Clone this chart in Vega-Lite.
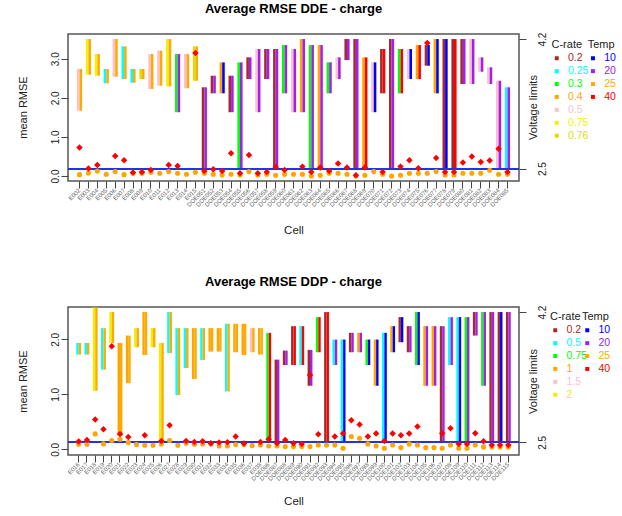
{
"$schema": "https://vega.github.io/schema/vega-lite/v6.json",
"padding": {"left": 16, "top": 2, "right": 0, "bottom": 0},
"spacing": 38,
"config": {
 "font": "Liberation Sans",
 "view": {"stroke": "#555", "strokeWidth": 1.5},
 "title": {"fontSize": 13, "fontWeight": "bold", "offset": 16, "color": "#000"},
 "axis": {"grid": false, "domain": false, "tickColor": "#444", "tickSize": 7, "labelColor": "#222", "titleColor": "#222", "titleFontWeight": "normal", "titleFontSize": 11, "labelFontSize": 10},
 "legend": {"padding": 0, "titleFontSize": 11, "titleFontWeight": "normal", "titleColor": "#222", "labelFontSize": 10.5, "symbolType": "square", "symbolSize": 16, "symbolStrokeWidth": 0, "rowPadding": 1.9, "labelOffset": 6, "titlePadding": 3, "orient": "none"}
},
"datasets": {
 "dde": [
  {"c":"E002","cr":"0.5","t":"25","lo":3.26,"hi":3.807,"r":0.728,"o":0.035},
  {"c":"E003","cr":"0.75","t":"25","lo":3.732,"hi":4.2,"r":0.19,"o":0.078},
  {"c":"E004","cr":"0.75","t":"25","lo":3.719,"hi":4.003,"r":0.28,"o":0.128},
  {"c":"E005","cr":"0.25","t":"25","lo":3.619,"hi":3.807,"r":null,"o":0.044},
  {"c":"E006","cr":"0.5","t":"25","lo":3.706,"hi":4.2,"r":0.513,"o":0.113},
  {"c":"E007","cr":"0.25","t":"25","lo":3.676,"hi":4.104,"r":0.403,"o":0.035},
  {"c":"E008","cr":"0.25","t":"25","lo":3.627,"hi":3.807,"r":0.087,"o":0.069},
  {"c":"E009","cr":"0.76","t":"25","lo":3.676,"hi":3.807,"r":0.103,"o":0.069},
  {"c":"E010","cr":"0.5","t":"25","lo":3.545,"hi":4.003,"r":0.154,"o":0.095},
  {"c":"E011","cr":"0.5","t":"25","lo":3.588,"hi":4.047,"r":null,"o":0.069},
  {"c":"E012","cr":"0.75","t":"25","lo":3.58,"hi":4.2,"r":0.28,"o":0.113},
  {"c":"E013","cr":"0.3","t":"20","lo":3.24,"hi":4.003,"r":0.256,"o":0.069},
  {"c":"E014","cr":"0.5","t":"25","lo":3.554,"hi":4.003,"r":null,"o":0.044},
  {"c":"E015","cr":"0.76","t":"25","lo":3.653,"hi":4.104,"r":3.146,"o":0.095},
  {"c":"DOE051","cr":"0.2","t":"20","lo":2.5,"hi":3.567,"r":0.128,"o":0.069},
  {"c":"DOE052","cr":"0.2","t":"20","lo":3.488,"hi":3.719,"r":0.172,"o":0.044},
  {"c":"DOE053","cr":"0.4","t":"10","lo":3.488,"hi":3.894,"r":0.128,"o":0.026},
  {"c":"DOE054","cr":"0.2","t":"20","lo":3.24,"hi":3.719,"r":0.582,"o":0.044},
  {"c":"DOE055","cr":"0.3","t":"20","lo":2.5,"hi":3.894,"r":0.069,"o":0.026},
  {"c":"DOE056","cr":"0.2","t":"20","lo":3.676,"hi":3.96,"r":0.538,"o":0.113},
  {"c":"DOE057","cr":"0.5","t":"20","lo":3.24,"hi":4.069,"r":0.069,"o":0.026},
  {"c":"DOE058","cr":"0.2","t":"20","lo":3.676,"hi":4.069,"r":0.103,"o":0.044},
  {"c":"DOE059","cr":"0.2","t":"20","lo":2.5,"hi":4.069,"r":0.231,"o":0.018},
  {"c":"DOE060","cr":"0.3","t":"20","lo":3.488,"hi":4.121,"r":0.154,"o":0.044},
  {"c":"DOE061","cr":"0.5","t":"20","lo":3.24,"hi":4.069,"r":null,"o":0.044},
  {"c":"DOE062","cr":"0.4","t":"20","lo":3.24,"hi":4.2,"r":0.24,"o":0.044},
  {"c":"DOE063","cr":"0.3","t":"20","lo":2.5,"hi":4.121,"r":0.103,"o":0.0},
  {"c":"DOE064","cr":"0.4","t":"20","lo":2.5,"hi":4.121,"r":0.215,"o":0.018},
  {"c":"DOE065","cr":"0.3","t":"20","lo":3.488,"hi":3.894,"r":0.128,"o":0.069},
  {"c":"DOE066","cr":"0.5","t":"20","lo":3.676,"hi":3.96,"r":0.318,"o":0.069},
  {"c":"DOE067","cr":"0.2","t":"20","lo":3.925,"hi":4.2,"r":0.215,"o":0.044},
  {"c":"DOE068","cr":"0.2","t":"20","lo":2.5,"hi":4.2,"r":0.018,"o":0.0},
  {"c":"DOE069","cr":"0.4","t":"40","lo":2.5,"hi":3.96,"r":0.215,"o":0.018},
  {"c":"DOE070","cr":"0.5","t":"10","lo":3.24,"hi":3.894,"r":null,"o":0.113},
  {"c":"DOE071","cr":"0.2","t":"40","lo":3.488,"hi":4.069,"r":0.103,"o":0.044},
  {"c":"DOE072","cr":"0.2","t":"20","lo":2.5,"hi":4.2,"r":null,"o":0.0},
  {"c":"DOE073","cr":"0.3","t":"40","lo":3.488,"hi":4.069,"r":0.24,"o":0.018},
  {"c":"DOE074","cr":"0.5","t":"10","lo":3.676,"hi":4.069,"r":0.403,"o":0.069},
  {"c":"DOE075","cr":"0.4","t":"40","lo":3.676,"hi":4.121,"r":0.197,"o":0.069},
  {"c":"DOE076","cr":"0.2","t":"10","lo":3.85,"hi":4.121,"r":3.403,"o":0.069},
  {"c":"DOE077","cr":"0.4","t":"10","lo":3.488,"hi":4.2,"r":0.462,"o":0.113},
  {"c":"DOE078","cr":"0.2","t":"10","lo":2.5,"hi":4.2,"r":0.103,"o":0.026},
  {"c":"DOE079","cr":"0.2","t":"40","lo":2.5,"hi":4.2,"r":0.103,"o":0.026},
  {"c":"DOE080","cr":"0.2","t":"20","lo":3.61,"hi":4.2,"r":0.343,"o":0.069},
  {"c":"DOE081","cr":"0.5","t":"20","lo":3.61,"hi":4.2,"r":0.497,"o":0.069},
  {"c":"DOE082","cr":"0.5","t":"20","lo":3.771,"hi":3.96,"r":0.36,"o":0.069},
  {"c":"DOE083","cr":"0.5","t":"20","lo":3.61,"hi":3.829,"r":0.394,"o":0.146},
  {"c":"DOE084","cr":"0.5","t":"20","lo":2.5,"hi":3.653,"r":0.7,"o":0.044},
  {"c":"DOE085","cr":"0.25","t":"20","lo":2.5,"hi":3.567,"r":0.103,"o":0.044}
 ],
 "ddp": [
  {"c":"E016","cr":"0.5","t":"25","lo":3.645,"hi":3.797,"r":0.14,"o":0.091},
  {"c":"E017","cr":"0.5","t":"25","lo":3.645,"hi":3.797,"r":0.17,"o":0.091},
  {"c":"E018","cr":"2","t":"25","lo":3.173,"hi":4.26,"r":0.543,"o":0.28},
  {"c":"E019","cr":"0.5","t":"25","lo":3.448,"hi":3.99,"r":0.366,"o":0.098},
  {"c":"E020","cr":"2","t":"25","lo":3.797,"hi":4.2,"r":1.877,"o":0.159},
  {"c":"E021","cr":"1","t":"25","lo":2.583,"hi":3.797,"r":0.28,"o":0.183},
  {"c":"E022","cr":"1","t":"25","lo":3.273,"hi":3.893,"r":0.225,"o":0.122},
  {"c":"E023","cr":"2","t":"25","lo":3.741,"hi":3.99,"r":null,"o":0.085},
  {"c":"E024","cr":"1","t":"25","lo":3.64,"hi":4.2,"r":0.256,"o":0.073},
  {"c":"E025","cr":"2","t":"25","lo":3.741,"hi":3.99,"r":null,"o":0.073},
  {"c":"E026","cr":"2","t":"25","lo":2.5,"hi":3.797,"r":0.152,"o":0.098},
  {"c":"E027","cr":"0.5","t":"25","lo":3.666,"hi":4.2,"r":0.439,"o":0.159},
  {"c":"E028","cr":"0.5","t":"25","lo":3.116,"hi":3.99,"r":null,"o":0.073},
  {"c":"E029","cr":"0.5","t":"25","lo":3.47,"hi":3.99,"r":0.152,"o":0.11},
  {"c":"E030","cr":"1","t":"25","lo":3.326,"hi":3.99,"r":0.134,"o":0.091},
  {"c":"E031","cr":"0.5","t":"25","lo":3.575,"hi":3.99,"r":0.146,"o":0.098},
  {"c":"E032","cr":"1","t":"25","lo":3.684,"hi":3.99,"r":0.11,"o":0.098},
  {"c":"E033","cr":"1","t":"25","lo":3.684,"hi":3.99,"r":0.122,"o":0.061},
  {"c":"E034","cr":"0.5","t":"25","lo":3.164,"hi":4.047,"r":0.128,"o":0.061},
  {"c":"E035","cr":"1","t":"25","lo":3.675,"hi":4.047,"r":0.232,"o":0.085},
  {"c":"E036","cr":"1","t":"25","lo":3.64,"hi":4.047,"r":0.104,"o":0.085},
  {"c":"E037","cr":"1.5","t":"25","lo":3.675,"hi":3.99,"r":null,"o":0.067},
  {"c":"E038","cr":"1","t":"25","lo":3.645,"hi":3.99,"r":0.134,"o":0.079},
  {"c":"DOE086","cr":"0.75","t":"40","lo":2.5,"hi":3.929,"r":0.183,"o":0.061},
  {"c":"DOE087","cr":"0.2","t":"20","lo":2.5,"hi":3.579,"r":0.11,"o":0.061},
  {"c":"DOE088","cr":"0.2","t":"20","lo":3.509,"hi":3.697,"r":0.17,"o":0.049},
  {"c":"DOE089","cr":"0.2","t":"40","lo":3.509,"hi":4.016,"r":0.11,"o":0.049},
  {"c":"DOE090","cr":"0.5","t":"40","lo":3.509,"hi":4.016,"r":0.098,"o":0.049},
  {"c":"DOE091","cr":"0.2","t":"20","lo":3.238,"hi":3.706,"r":1.353,"o":0.049},
  {"c":"DOE092","cr":"0.75","t":"40","lo":3.675,"hi":4.134,"r":0.274,"o":0.079},
  {"c":"DOE093","cr":"0.2","t":"40","lo":2.5,"hi":4.2,"r":null,"o":0.079},
  {"c":"DOE094","cr":"0.5","t":"20","lo":3.509,"hi":3.841,"r":0.232,"o":0.079},
  {"c":"DOE095","cr":"0.5","t":"10","lo":2.5,"hi":3.841,"r":0.286,"o":0.018},
  {"c":"DOE096","cr":"0.2","t":"20","lo":3.675,"hi":3.929,"r":0.53,"o":0.232},
  {"c":"DOE097","cr":"1","t":"20","lo":3.675,"hi":3.929,"r":0.451,"o":0.201},
  {"c":"DOE098","cr":"0.75","t":"10","lo":3.509,"hi":3.841,"r":0.232,"o":0.098},
  {"c":"DOE099","cr":"1","t":"10","lo":3.238,"hi":3.841,"r":0.286,"o":0.061},
  {"c":"DOE100","cr":"0.5","t":"10","lo":2.5,"hi":3.929,"r":0.152,"o":0.018},
  {"c":"DOE101","cr":"1","t":"10","lo":3.675,"hi":4.016,"r":0.286,"o":0.079},
  {"c":"DOE102","cr":"0.2","t":"10","lo":3.806,"hi":4.134,"r":0.256,"o":0.031},
  {"c":"DOE103","cr":"0.2","t":"20","lo":3.675,"hi":4.016,"r":0.286,"o":0.098},
  {"c":"DOE104","cr":"0.75","t":"10","lo":3.509,"hi":4.2,"r":0.414,"o":0.079},
  {"c":"DOE105","cr":"1","t":"20","lo":3.238,"hi":4.016,"r":null,"o":0.031},
  {"c":"DOE106","cr":"1","t":"20","lo":3.238,"hi":4.016,"r":null,"o":0.031},
  {"c":"DOE107","cr":"0.2","t":"20","lo":2.5,"hi":4.016,"r":0.292,"o":0.018},
  {"c":"DOE108","cr":"0.5","t":"20","lo":3.509,"hi":4.134,"r":0.384,"o":0.079},
  {"c":"DOE109","cr":"0.5","t":"10","lo":2.5,"hi":4.134,"r":0.098,"o":0.018},
  {"c":"DOE110","cr":"0.75","t":"20","lo":2.5,"hi":4.134,"r":0.098,"o":0.018},
  {"c":"DOE111","cr":"0.2","t":"20","lo":3.893,"hi":4.2,"r":0.292,"o":0.079},
  {"c":"DOE112","cr":"0.75","t":"20","lo":3.238,"hi":4.2,"r":0.146,"o":0.043},
  {"c":"DOE113","cr":"0.2","t":"20","lo":2.5,"hi":4.2,"r":0.08,"o":0.043},
  {"c":"DOE114","cr":"0.2","t":"10","lo":2.5,"hi":4.2,"r":0.08,"o":0.043},
  {"c":"DOE115","cr":"0.2","t":"20","lo":2.5,"hi":4.2,"r":0.08,"o":0.043}
 ]
},
"vconcat": [
 {
  "title": "Average RMSE DDE - charge",
  "width": 451, "height": 147,
  "data": {"name": "dde"},
  "layer": [
   {"layer": [
     {"mark": {"type": "bar"}, "encoding": {
       "x": {"field": "c", "type": "nominal", "sort": null, "scale": {"paddingInner": 0.42, "paddingOuter": 1.72}, "axis": {"title": "Cell", "labelAngle": -45, "labelAlign": "right", "labelBaseline": "middle", "labelFontSize": 6, "labelColor": "#666", "labelOverlap": false, "labelPadding": 1, "titleY": 49, "titleBaseline": "middle", "titleFontSize": 11.5}},
       "xOffset": {"datum": "a", "type": "nominal"},
       "y": {"field": "lo", "type": "quantitative", "scale": {"domain": [2.338, 4.266], "nice": false, "zero": false}, "axis": {"orient": "right", "values": [2.5, 4.2], "format": ".1f", "title": "Voltage limits", "labelAngle": 270, "labelAlign": "center", "labelBaseline": "top", "labelPadding": 11, "titleAngle": 270, "titleX": 14, "titleY": 73, "titleBaseline": "middle"}},
       "y2": {"field": "hi"},
       "color": {"field": "cr", "type": "nominal", "scale": {"domain": ["0.2","0.25","0.3","0.4","0.5","0.75","0.76"], "range": ["#A52A2A","#00FFFF","#00FF00","#FFA500","#FFC0CB","#F2F200","#E0DC00"]}, "legend": {"title": "C-rate", "legendX": 483.5, "legendY": 5, "labelColor": {"expr": "datum.label=='0.2'?'#A52A2A':datum.label=='0.25'?'#00FFFF':datum.label=='0.3'?'#00FF00':datum.label=='0.4'?'#FFA500':datum.label=='0.5'?'#FFC0CB':datum.label=='0.75'?'#F2F200':'#E0DC00'"}}}
     }},
     {"mark": {"type": "bar"}, "encoding": {
       "x": {"field": "c", "type": "nominal", "sort": null},
       "xOffset": {"datum": "b", "type": "nominal"},
       "y": {"field": "lo", "type": "quantitative"},
       "y2": {"field": "hi"},
       "fill": {"field": "t", "type": "nominal", "scale": {"domain": ["10","20","25","40"], "range": ["#0000FF","#A020F0","#FFAA00","#FF0000"]}, "legend": {"title": "Temp", "legendX": 519.7, "legendY": 5, "labelColor": {"expr": "datum.label=='10'?'#0000FF':datum.label=='20'?'#A020F0':datum.label=='25'?'#FFAA00':'#FF0000'"}}}
     }},
     {"mark": {"type": "rule", "color": "#2233E6", "strokeWidth": 1.5}, "encoding": {"y": {"datum": 2.5}}}
   ]},
   {"layer": [
     {"mark": {"type": "point", "shape": "circle", "filled": true, "color": "#FFA500", "size": 26, "opacity": 1}, "encoding": {
       "x": {"field": "c", "type": "nominal", "sort": null},
       "y": {"field": "o", "type": "quantitative", "scale": {"domain": [-0.128, 3.633], "nice": false, "zero": false}, "axis": {"orient": "left", "values": [0, 0.5, 1, 1.5, 2, 2.5, 3, 3.5], "labelExpr": "datum.value % 1 === 0 ? format(datum.value, '.1f') : ''", "title": "mean RMSE", "labelAngle": 270, "labelAlign": "center", "labelBaseline": "alphabetic", "labelPadding": 3, "titleAngle": 270, "titleX": -45, "titleY": 73, "titleBaseline": "middle"}}
     }},
     {"mark": {"type": "point", "shape": "diamond", "filled": true, "color": "#FF0000", "size": 42, "opacity": 1}, "encoding": {
       "x": {"field": "c", "type": "nominal", "sort": null},
       "y": {"field": "r", "type": "quantitative"}
     }}
   ]}
  ],
  "resolve": {"scale": {"y": "independent"}}
 },
 {
  "title": "Average RMSE DDP - charge",
  "width": 451, "height": 148,
  "data": {"name": "ddp"},
  "layer": [
   {"layer": [
     {"mark": {"type": "bar"}, "encoding": {
       "x": {"field": "c", "type": "nominal", "sort": null, "scale": {"paddingInner": 0.415, "paddingOuter": 1.79}, "axis": {"title": "Cell", "labelAngle": -45, "labelAlign": "right", "labelBaseline": "middle", "labelFontSize": 6, "labelColor": "#666", "labelOverlap": false, "labelPadding": 1, "titleY": 46, "titleBaseline": "middle", "titleFontSize": 11.5}},
       "xOffset": {"datum": "a", "type": "nominal"},
       "y": {"field": "lo", "type": "quantitative", "scale": {"domain": [2.334, 4.266], "nice": false, "zero": false}, "axis": {"orient": "right", "values": [2.5, 4.2], "format": ".1f", "title": "Voltage limits", "labelAngle": 270, "labelAlign": "center", "labelBaseline": "top", "labelPadding": 11, "titleAngle": 270, "titleX": 14, "titleY": 74, "titleBaseline": "middle"}},
       "y2": {"field": "hi"},
       "color": {"field": "cr", "type": "nominal", "scale": {"domain": ["0.2","0.5","0.75","1","1.5","2"], "range": ["#A52A2A","#00FFFF","#00FF00","#FFA500","#FFC0CB","#EEEE00"]}, "legend": {"title": "C-rate", "legendX": 482, "legendY": 4, "labelColor": {"expr": "datum.label=='0.2'?'#A52A2A':datum.label=='0.5'?'#00FFFF':datum.label=='0.75'?'#00FF00':datum.label=='1'?'#FFA500':datum.label=='1.5'?'#FFC0CB':'#EEEE00'"}}}
     }},
     {"mark": {"type": "bar"}, "encoding": {
       "x": {"field": "c", "type": "nominal", "sort": null},
       "xOffset": {"datum": "b", "type": "nominal"},
       "y": {"field": "lo", "type": "quantitative"},
       "y2": {"field": "hi"},
       "fill": {"field": "t", "type": "nominal", "scale": {"domain": ["10","20","25","40"], "range": ["#0000FF","#A020F0","#FFAA00","#FF0000"]}, "legend": {"title": "Temp", "legendX": 514, "legendY": 4, "labelColor": {"expr": "datum.label=='10'?'#0000FF':datum.label=='20'?'#A020F0':datum.label=='25'?'#FFAA00':'#FF0000'"}}}
     }},
     {"mark": {"type": "rule", "color": "#2233E6", "strokeWidth": 1.5}, "encoding": {"y": {"datum": 2.5}}}
   ]},
   {"layer": [
     {"mark": {"type": "point", "shape": "circle", "filled": true, "color": "#FFA500", "size": 26, "opacity": 1}, "encoding": {
       "x": {"field": "c", "type": "nominal", "sort": null},
       "y": {"field": "o", "type": "quantitative", "scale": {"domain": [-0.104, 2.59], "nice": false, "zero": false}, "axis": {"orient": "left", "values": [0, 0.5, 1, 1.5, 2, 2.5], "format": ".1f", "title": "mean RMSE", "labelAngle": 270, "labelAlign": "center", "labelBaseline": "alphabetic", "labelPadding": 3, "titleAngle": 270, "titleX": -45, "titleY": 74, "titleBaseline": "middle"}}
     }},
     {"mark": {"type": "point", "shape": "diamond", "filled": true, "color": "#FF0000", "size": 42, "opacity": 1}, "encoding": {
       "x": {"field": "c", "type": "nominal", "sort": null},
       "y": {"field": "r", "type": "quantitative"}
     }}
   ]}
  ],
  "resolve": {"scale": {"y": "independent"}}
 }
],
"resolve": {"scale": {"color": "independent", "fill": "independent", "x": "independent", "xOffset": "independent"}, "legend": {"color": "independent", "fill": "independent"}}
}
